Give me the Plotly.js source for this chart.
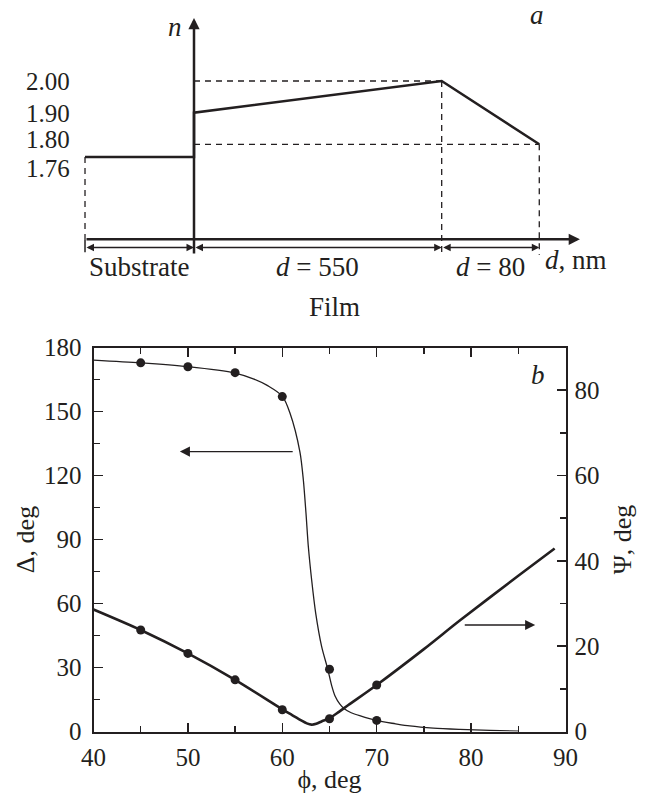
<!DOCTYPE html>
<html>
<head>
<meta charset="utf-8">
<script src="https://cdn.plot.ly/plotly-3.0.1.min.js"></script>
<style>html,body{margin:0;padding:0;background:#fff;} #chart{width:653px;height:799px;}</style>
</head>
<body>
<div id="chart"></div>
<script>
// ---------- Panel a: refractive-index profile (schematic) ----------
const layerX = [-0.44, 0, 1, 1.394];            // schematic boundaries: substrate start, interface, d=550 boundary, surface
const profileN = [1.76, 1.76, 1.90, 2.00, 1.80]; // n values along the profile
const nTickVals = [2.00, 1.90, 1.80, 1.76];
const nTickText = ['2.00', '1.90', '1.80', '1.76'];
const layerLabels = ['Substrate', '<i>d</i> = 550', '<i>d</i> = 80'];

// ---------- Panel b: ellipsometric angles ----------
const phiDeltaCurve = [40, 45, 50, 55, 57, 58.5, 60, 60.82, 61.87, 62.23, 62.51, 62.76, 63.11, 63.54, 64.17, 64.8, 65.23, 65.6, 66.1, 66.6, 67.3, 68.2, 70, 72, 73.5, 76, 78.8, 82, 85];
const deltaCurve    = [174.1, 172.8, 171.0, 168.0, 165.2, 162.0, 157.2, 149.2, 131.0, 117.9, 102.3, 86.6, 71.0, 55.4, 39.8, 29.5, 21.5, 16.5, 12.8, 10.5, 8.8, 7.4, 5.1, 3.6, 2.6, 1.6, 1.0, 0.5, 0.2];
const phiPsiCurve = [40, 45, 50, 55, 60, 61, 62, 62.6, 63.1, 63.6, 64.2, 65, 66, 67, 70, 75, 78.8, 85, 88.85];
const psiCurve    = [28.6, 23.8, 18.3, 12.1, 5.2, 3.9, 2.6, 1.9, 1.6, 1.8, 2.4, 3.1, 4.6, 6.2, 10.9, 19.3, 26.0, 36.5, 42.9];
const phiMeas   = [45, 50, 55, 60, 65, 70];
const deltaMeas = [172.8, 171.0, 168.2, 157.0, 29.2, 5.2];
const psiMeas   = [23.8, 18.3, 12.1, 5.1, 3.0, 10.9];

const INK = '#231f20';
const SERIF = '"Liberation Serif", "Times New Roman", "DejaVu Serif", serif';

// panel-a layout constants (schematic n-levels for the axes and label rows)
const nBase = 1.50, nBelow = 1.45, nDim = 1.474, nTop = 2.199, xTip = 1.558, nLabelRow = 1.4123;
const nLabelShift = [-0.0016, -0.0027, 0.0145, -0.0355]; // vertical offsets of the n labels (1.80 / 1.76 pulled apart)

const profileX = [layerX[0], layerX[1], layerX[1], layerX[2], layerX[3]];

const traces = [
  {x: profileX, y: profileN, xaxis: 'x2', yaxis: 'y3', mode: 'lines',
   line: {color: INK, width: 2.5}, hoverinfo: 'skip', showlegend: false},
  {x: phiDeltaCurve, y: deltaCurve, xaxis: 'x', yaxis: 'y', mode: 'lines',
   line: {color: INK, width: 1.3, shape: 'spline', smoothing: 0.8}, showlegend: false, name: 'Δ fit'},
  {x: phiPsiCurve, y: psiCurve, xaxis: 'x', yaxis: 'y2', mode: 'lines',
   line: {color: INK, width: 2.6, shape: 'spline', smoothing: 0.8}, showlegend: false, name: 'Ψ fit'},
  {x: phiMeas, y: deltaMeas, xaxis: 'x', yaxis: 'y', mode: 'markers',
   marker: {color: INK, size: 9}, showlegend: false, name: 'Δ'},
  {x: phiMeas, y: psiMeas, xaxis: 'x', yaxis: 'y2', mode: 'markers',
   marker: {color: INK, size: 9}, showlegend: false, name: 'Ψ'}
];

const dashStyle = {color: INK, width: 1.3, dash: '6px,5px'};
const shapes = [
  {type: 'line', xref: 'x2', yref: 'y3', x0: layerX[1], x1: layerX[2], y0: profileN[3], y1: profileN[3], line: dashStyle},
  {type: 'line', xref: 'x2', yref: 'y3', x0: layerX[1], x1: layerX[3], y0: profileN[4], y1: profileN[4], line: dashStyle},
  {type: 'line', xref: 'x2', yref: 'y3', x0: layerX[0], x1: layerX[0], y0: profileN[0], y1: nBase, line: dashStyle},
  {type: 'line', xref: 'x2', yref: 'y3', x0: layerX[2], x1: layerX[2], y0: profileN[3], y1: nBelow, line: dashStyle},
  {type: 'line', xref: 'x2', yref: 'y3', x0: layerX[3], x1: layerX[3], y0: profileN[4], y1: nBelow, line: dashStyle},
  {type: 'line', xref: 'x2', yref: 'y3', x0: layerX[0], x1: layerX[0], y0: nBase, y1: nBelow + 0.009, line: {color: INK, width: 1.5}}
];

const annotations = [];
const A = (o, size) => annotations.push(Object.assign({showarrow: false, font: {family: SERIF, size: size || 27, color: INK}}, o));

// n axis and d axis (arrows)
annotations.push({xref: 'x2', yref: 'y3', axref: 'x2', ayref: 'y3', x: layerX[1], y: nTop, ax: layerX[1], ay: nBelow,
  showarrow: true, arrowhead: 2, arrowsize: 0.9, arrowwidth: 2.5, arrowcolor: INK, text: '', standoff: 0});
annotations.push({xref: 'x2', yref: 'y3', axref: 'x2', ayref: 'y3', x: xTip, y: nBase, ax: layerX[0], ay: nBase,
  showarrow: true, arrowhead: 2, arrowsize: 0.9, arrowwidth: 2.5, arrowcolor: INK, text: '', standoff: 0});
// dimension arrows
for (let i = 0; i < 3; i++) {
  annotations.push({xref: 'x2', yref: 'y3', axref: 'x2', ayref: 'y3', x: layerX[i + 1], y: nDim, ax: layerX[i], ay: nDim,
    showarrow: true, arrowside: 'end+start', arrowhead: 2, startarrowhead: 2, arrowsize: 1.15, startarrowsize: 1.15,
    arrowwidth: 1.3, arrowcolor: INK, text: '', standoff: 0, startstandoff: 0});
}
// n tick labels
nTickVals.forEach((v, i) => A({xref: 'x2', yref: 'y3', x: -0.4925, y: v + nLabelShift[i], xanchor: 'right', yanchor: 'middle', text: nTickText[i]}, 25));
A({xref: 'x2', yref: 'y3', x: -0.0767, y: 2.1706, text: '<i>n</i>', xanchor: 'center', yanchor: 'middle'});
A({xref: 'x2', yref: 'y3', x: 1.385, y: 2.2085, text: '<i>a</i>', xanchor: 'center', yanchor: 'middle'});
const labelCenters = [(layerX[0] + layerX[1]) / 2, (layerX[1] + layerX[2]) / 2, (layerX[2] + layerX[3]) / 2];
layerLabels.forEach((t, i) => A({xref: 'x2', yref: 'y3', x: labelCenters[i], y: nLabelRow, text: t, xanchor: 'center', yanchor: 'middle'}));
A({xref: 'x2', yref: 'y3', x: 1.409, y: 1.4345, text: '<i>d</i>, nm', xanchor: 'left', yanchor: 'middle'});
A({xref: 'paper', yref: 'paper', x: 334 / 653, y: (799 - 306.7) / 799, text: 'Film', xanchor: 'center', yanchor: 'middle'});

// panel b labels and arrows
A({xref: 'x', yref: 'y', x: 87.09, y: 167.1, text: '<i>b</i>', xanchor: 'center', yanchor: 'middle'});
annotations.push({xref: 'x', yref: 'y', axref: 'x', ayref: 'y', x: 49.15, y: 131.2, ax: 61.26, ay: 131.2,
  showarrow: true, arrowhead: 2, arrowsize: 1.55, arrowwidth: 1.3, arrowcolor: INK, text: '', standoff: 0});
annotations.push({xref: 'x', yref: 'y2', axref: 'x', ayref: 'y2', x: 86.79, y: 24.96, ax: 79.17, ay: 24.96,
  showarrow: true, arrowhead: 2, arrowsize: 1.55, arrowwidth: 1.3, arrowcolor: INK, text: '', standoff: 0});

const tickFont = {family: SERIF, size: 25, color: INK};
const titleFont = {family: SERIF, size: 26, color: INK};

const layout = {
  width: 653, height: 799,
  margin: {l: 0, r: 0, t: 0, b: 0},
  paper_bgcolor: '#ffffff', plot_bgcolor: 'rgba(0,0,0,0)',
  showlegend: false,
  xaxis: {
    domain: [93.5 / 653, 565.5 / 653], range: [40, 90], anchor: 'y',
    tickvals: [40, 50, 60, 70, 80, 90], ticks: 'inside', ticklen: 9, tickwidth: 1.5, tickcolor: INK,
    minor: {dtick: 5, tick0: 40, ticks: 'inside', ticklen: 6, tickwidth: 1.5, tickcolor: INK, showgrid: false},
    showline: true, linewidth: 2, linecolor: INK, mirror: 'ticks', showgrid: false, zeroline: false,
    tickfont: tickFont, ticklabelstandoff: 2,
    title: {text: 'ϕ, deg', font: titleFont, standoff: 0}
  },
  yaxis: {
    domain: [(799 - 731.5) / 799, (799 - 347.5) / 799], range: [0, 180], anchor: 'x',
    tickvals: [0, 30, 60, 90, 120, 150, 180], ticks: 'inside', ticklen: 9, tickwidth: 1.5, tickcolor: INK,
    minor: {dtick: 15, tick0: 0, ticks: 'inside', ticklen: 6, tickwidth: 1.5, tickcolor: INK, showgrid: false},
    showline: true, linewidth: 2, linecolor: INK, showgrid: false, zeroline: false,
    tickfont: tickFont, ticklabelstandoff: 5,
    title: {text: 'Δ, deg', font: titleFont, standoff: 2}
  },
  yaxis2: {
    overlaying: 'y', side: 'right', anchor: 'x', range: [0, 90],
    tickvals: [0, 20, 40, 60, 80], ticks: 'inside', ticklen: 9, tickwidth: 1.5, tickcolor: INK,
    minor: {dtick: 10, tick0: 0, ticks: 'inside', ticklen: 6, tickwidth: 1.5, tickcolor: INK, showgrid: false},
    showline: true, linewidth: 2, linecolor: INK, showgrid: false, zeroline: false,
    tickfont: tickFont, ticklabelstandoff: 2,
    title: {text: 'Ψ, deg', font: titleFont, standoff: 14}
  },
  xaxis2: {domain: [0, 1], range: [-0.7832, 1.8531], anchor: 'y3', visible: false, fixedrange: true},
  yaxis3: {domain: [(799 - 300) / 799, 1], range: [1.3081, 2.2559], anchor: 'x2', visible: false, fixedrange: true},
  shapes: shapes,
  annotations: annotations
};

Plotly.newPlot('chart', traces, layout, {displayModeBar: false, staticPlot: true});
</script>
</body>
</html>
